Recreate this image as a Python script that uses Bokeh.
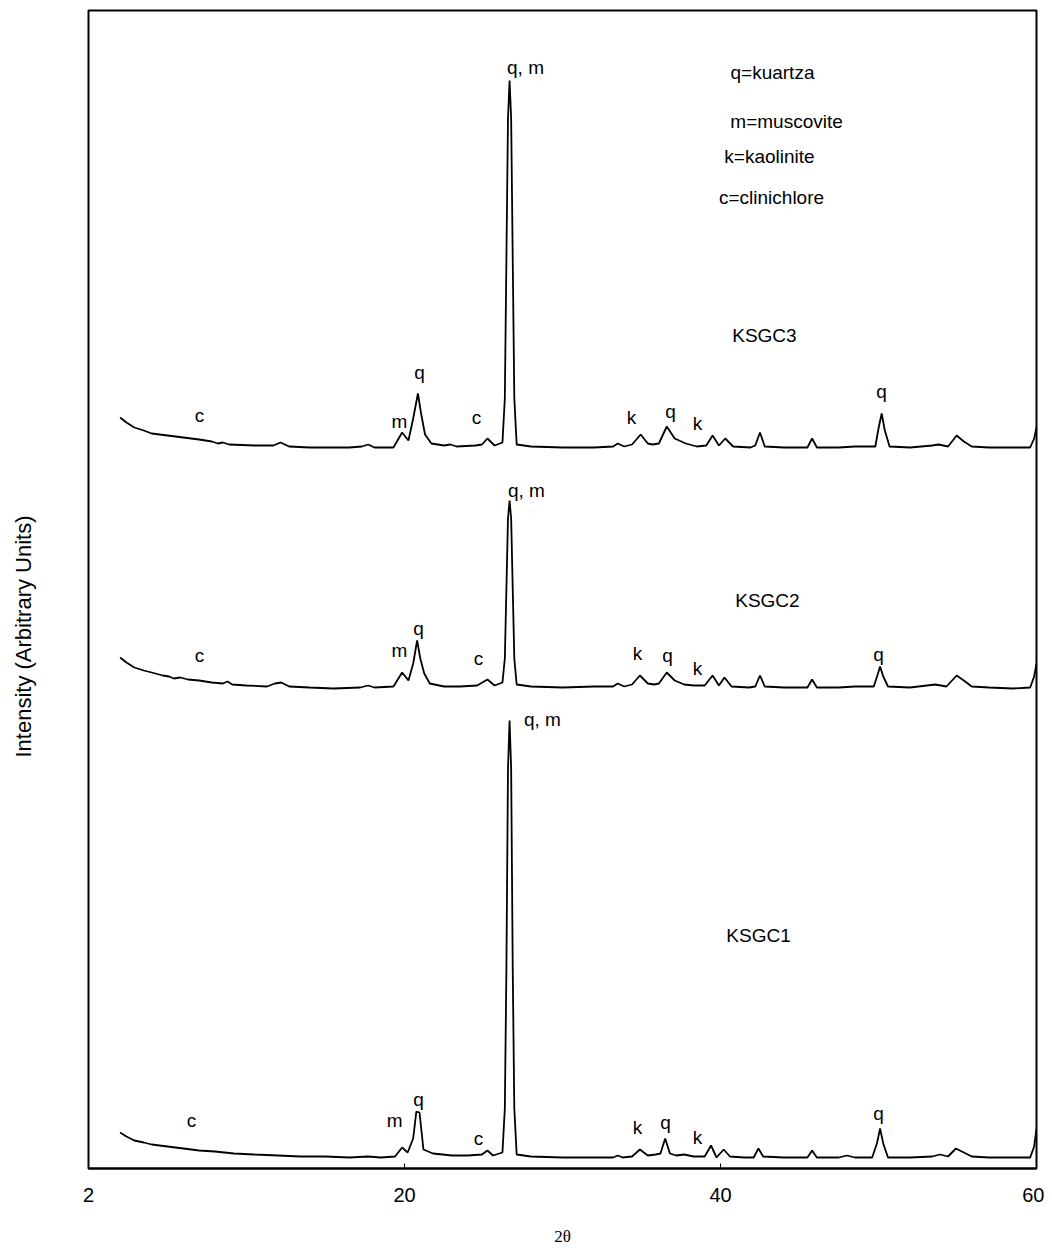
from bokeh.plotting import figure
from bokeh.models import Range1d, FixedTicker, Title
from bokeh.core.properties import value
from bokeh.embed import file_html
from bokeh.resources import INLINE

# ---------------- data ----------------
# 2-theta positions and intensities (arbitrary units) for each pattern
tt_ksgc1 = [2.0, 2.4, 2.9, 3.5, 4.0, 5.0, 6.0, 7.0, 8.0, 9.2, 10.5, 12.0, 13.4, 15.0, 16.5, 17.7,
            18.5, 19.4, 19.85, 20.2, 20.55, 20.75, 20.95, 21.2, 21.8, 23.0, 24.0, 24.9, 25.25,
            25.6, 26.2, 26.35, 26.45, 26.55, 26.65, 26.75, 26.85, 26.95, 27.1, 28.0, 30.0, 32.0,
            33.2, 33.5, 33.8, 34.4, 34.9, 35.4, 35.9, 36.2, 36.5, 36.8, 37.2, 37.7, 38.3, 39.0,
            39.4, 39.75, 40.2, 40.6, 41.5, 42.1, 42.4, 42.7, 44.0, 45.5, 45.8, 46.1, 47.5, 48.0,
            48.5, 49.6, 49.9, 50.1, 50.3, 50.6, 52.0, 53.4, 53.9, 54.4, 54.9, 55.4, 55.9, 57.0,
            58.5, 59.6, 59.85, 60.0]
int_ksgc1 = [36, 32, 28, 26, 24, 22, 20, 18, 17, 15, 14, 13, 12, 12, 11, 12,
             11, 12, 21, 16, 30, 57, 56, 19, 15, 13, 13, 14, 18,
             13, 16, 60, 200, 400, 448, 400, 200, 60, 14, 12, 11, 11,
             11, 13, 11, 12, 19, 13, 14, 15, 30, 15, 13, 14, 12, 12,
             23, 11, 19, 12, 11, 11, 20, 12, 11, 11, 18, 11, 11, 13,
             11, 11, 25, 40, 25, 11, 11, 12, 14, 12, 20, 16, 12, 11,
             11, 11, 22, 40]

tt_ksgc2 = [2.0, 2.4, 2.9, 3.5, 4.0, 4.7, 5.1, 5.4, 5.8, 6.3, 7.0, 7.8, 8.5, 8.8, 9.1, 10.0,
            11.3, 11.8, 12.2, 12.7, 14.0, 15.5, 17.2, 17.7, 18.1, 19.3, 19.85, 20.25, 20.55,
            20.8, 21.0, 21.25, 21.6, 22.5, 23.5, 24.6, 25.25, 25.7, 26.2, 26.35, 26.45, 26.55,
            26.65, 26.75, 26.85, 26.95, 27.1, 28.0, 30.0, 32.0, 33.2, 33.5, 33.9, 34.4, 34.9,
            35.4, 35.8, 36.1, 36.6, 37.1, 37.7, 38.3, 39.0, 39.5, 39.9, 40.25, 40.7, 41.8, 42.2,
            42.5, 42.8, 44.0, 45.5, 45.8, 46.1, 47.5, 48.5, 49.7, 49.95, 50.1, 50.3, 50.6, 52.0,
            53.6, 54.3, 54.95, 55.4, 55.9, 57.0, 58.5, 59.6, 59.85, 60.0]
int_ksgc2 = [41, 36, 31, 28, 26, 23, 22, 20, 21, 19, 18, 16, 15, 17, 14, 13,
             12, 15, 16, 12, 11, 10, 11, 13, 11, 12, 26, 18, 35,
             58, 40, 25, 15, 12, 12, 13, 19, 13, 16, 40, 110, 180,
             198, 180, 110, 40, 14, 12, 11, 12, 12, 15, 12, 14, 23,
             15, 14, 15, 26, 18, 14, 13, 13, 23, 13, 21, 12, 11, 12,
             23, 12, 11, 11, 19, 11, 11, 12, 12, 24, 32, 22, 12, 11,
             14, 12, 23, 18, 12, 11, 10, 11, 22, 35]

tt_ksgc3 = [2.0, 2.4, 2.9, 3.5, 4.0, 5.0, 6.0, 7.0, 7.8, 8.2, 8.5, 8.9, 10.5, 11.7, 12.15, 12.7,
            14.0, 15.0, 16.5, 17.3, 17.7, 18.1, 19.3, 19.85, 20.25, 20.55, 20.85, 21.05, 21.3,
            21.7, 22.5, 22.9, 23.3, 24.5, 24.9, 25.25, 25.7, 26.2, 26.35, 26.45, 26.55, 26.65,
            26.75, 26.85, 26.95, 27.1, 28.0, 30.0, 32.0, 33.2, 33.5, 33.9, 34.4, 34.95, 35.4,
            35.7, 36.1, 36.6, 37.1, 37.8, 38.5, 39.1, 39.5, 39.9, 40.3, 40.8, 41.9, 42.2, 42.5,
            42.8, 44.0, 45.5, 45.8, 46.1, 47.5, 48.5, 49.8, 50.0, 50.2, 50.4, 50.7, 52.0, 53.4,
            53.8, 54.4, 54.95, 55.4, 55.9, 57.0, 58.5, 59.6, 59.85, 60.0]
int_ksgc3 = [41, 36, 31, 28, 25, 23, 21, 19, 17, 15, 16, 14, 13, 13, 16, 12,
             11, 11, 11, 12, 14, 11, 11, 26, 18, 40, 65, 45, 24,
             15, 13, 14, 12, 13, 14, 20, 13, 16, 60, 200, 340, 378,
             340, 200, 60, 14, 12, 11, 11, 12, 15, 12, 14, 24, 15,
             14, 15, 32, 20, 15, 12, 13, 23, 13, 20, 12, 11, 13, 26,
             12, 11, 11, 20, 11, 11, 12, 12, 30, 45, 28, 12, 11, 13,
             14, 12, 23, 17, 12, 11, 11, 11, 20, 31]

series_names = ["KSGC1", "KSGC2", "KSGC3"]
series_offsets = [0, 470, 710]

# phase annotations: text, 2-theta, intensity (already in stacked display units)
ann_text = ["c", "m", "q", "c", "q, m", "k", "q", "k", "q", "KSGC3",
            "c", "m", "q", "c", "q, m", "k", "q", "k", "q", "KSGC2",
            "c", "m", "q", "c", "q, m", "k", "q", "k", "q", "KSGC1"]
ann_x = [7.03, 19.68, 20.95, 24.56, 27.66, 34.37, 36.84, 38.54, 50.19, 42.78,
         7.03, 19.68, 20.89, 24.68, 27.72, 34.75, 36.65, 38.54, 50.0, 42.97,
         6.52, 19.37, 20.89, 24.68, 28.73, 34.75, 36.52, 38.54, 50.0, 42.41]
ann_y = [753, 747, 796, 751, 1101, 751, 757, 745, 777, 833,
         513, 518, 540, 510, 678, 515, 513, 500, 514, 568,
         48, 48, 69, 30, 449, 41, 46, 31, 55, 233]

key_text = ["q=kuartza", "m=muscovite", "k=kaolinite", "c=clinichlore"]
key_x = [43.29, 44.18, 43.10, 43.23]
key_y = [1096, 1047, 1012, 971]

x_ticks = [0, 20, 40, 60]
x_tick_labels = {0: "2", 20: "20", 40: "40", 60: "60"}

# ---------------- figure ----------------
p = figure(width=1044, height=1252, output_backend="svg", toolbar_location=None,
           x_range=Range1d(0, 60), y_range=Range1d(0, 1158),
           min_border_left=88, min_border_right=8, min_border_top=10, min_border_bottom=84)
p.background_fill_color = "white"
p.border_fill_color = "white"
p.outline_line_color = "black"
p.outline_line_width = 2
p.grid.visible = False
p.yaxis.visible = False

xa = p.xaxis[0]
xa.ticker = FixedTicker(ticks=x_ticks, minor_ticks=[])
xa.major_label_overrides = x_tick_labels
xa.major_tick_in = 5
xa.major_tick_out = 0
xa.minor_tick_in = 0
xa.minor_tick_out = 0
xa.axis_line_color = "black"
xa.axis_line_width = 2
xa.major_tick_line_color = "black"
xa.major_label_standoff = 19
xa.major_label_text_font = "Liberation Sans"
xa.major_label_text_font_size = "20px"
xa.major_label_text_color = "black"
xa.axis_label = "2θ"
xa.axis_label_standoff = 22
xa.axis_label_text_font = "Liberation Serif"
xa.axis_label_text_font_style = "normal"
xa.axis_label_text_font_size = "17px"
xa.axis_label_text_color = "black"

traces = [(tt_ksgc1, int_ksgc1), (tt_ksgc2, int_ksgc2), (tt_ksgc3, int_ksgc3)]
for (tt, inten), off in zip(traces, series_offsets):
    p.line(tt, [v + off for v in inten], line_color="black", line_width=1.8)

p.text(ann_x, ann_y, text=ann_text, text_align="center", text_baseline="middle",
       text_font=value("Liberation Sans"), text_font_size="19px", text_color="black")
p.text(key_x, key_y, text=key_text, text_align="center", text_baseline="middle",
       text_font=value("Liberation Sans"), text_font_size="19px", text_color="black")

# blank spacer panel next to the frame, then the vertical axis title further out
spacer = Title(text="\u00a0", standoff=40, text_font_size="10px", text_color="white")
p.add_layout(spacer, "left")
ylab = Title(text="Intensity (Arbitrary Units)", align="left", vertical_align="bottom",
             offset=411, standoff=0,
             text_font="Liberation Sans", text_font_size="22px", text_font_style="normal",
             text_color="black")
p.add_layout(ylab, "left")

open("out.html", "w").write(file_html(p, INLINE))
